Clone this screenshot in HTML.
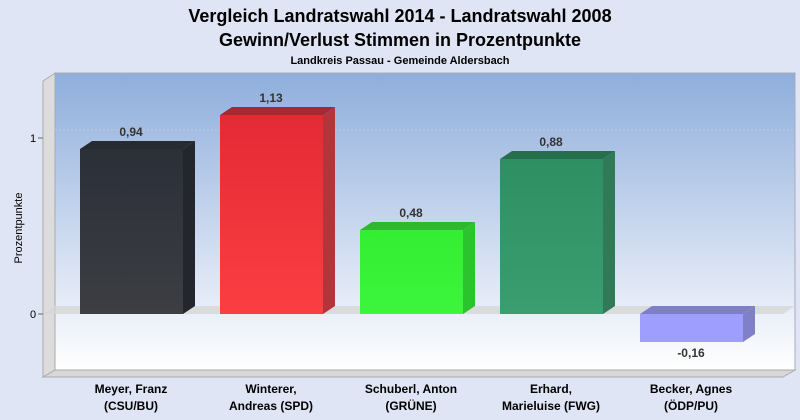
<html><body style="margin:0;background:#dfe5f4;font-family:'Liberation Sans',sans-serif">
<svg width="800" height="420" xmlns="http://www.w3.org/2000/svg">
<defs>
<linearGradient id="bg" x1="0" y1="0" x2="0" y2="1"><stop offset="0" stop-color="#8eaedc"/><stop offset="0.75" stop-color="#e3eaf6"/><stop offset="1" stop-color="#ffffff"/></linearGradient>
<linearGradient id="g1" x1="0" y1="0" x2="0" y2="1"><stop offset="0" stop-color="#2b2f38"/><stop offset="1" stop-color="#3c3e43"/></linearGradient>
<linearGradient id="g2" x1="0" y1="0" x2="0" y2="1"><stop offset="0" stop-color="#e42a35"/><stop offset="1" stop-color="#fb3e42"/></linearGradient>
<linearGradient id="g3" x1="0" y1="0" x2="0" y2="1"><stop offset="0" stop-color="#33ee33"/><stop offset="1" stop-color="#3cf53c"/></linearGradient>
<linearGradient id="g4" x1="0" y1="0" x2="0" y2="1"><stop offset="0" stop-color="#2e8f62"/><stop offset="1" stop-color="#3a9e70"/></linearGradient>
</defs>
<text x="400" y="22" text-anchor="middle" font-size="18" font-weight="bold" fill="#000">Vergleich Landratswahl 2014 - Landratswahl 2008</text>
<text x="400" y="46" text-anchor="middle" font-size="18" font-weight="bold" fill="#000">Gewinn/Verlust Stimmen in Prozentpunkte</text>
<text x="400" y="64" text-anchor="middle" font-size="11" font-weight="bold" fill="#000">Landkreis Passau - Gemeinde Aldersbach</text>
<rect x="55" y="73" width="740" height="297" fill="url(#bg)" stroke="#aab" stroke-width="1"/>
<polygon points="43,81 55,73 55,370 43,377" fill="#dcdcdc" stroke="#aaa" stroke-width="1"/>
<polygon points="43,377 55,370 795,370 783,377" fill="#d8d8d8" stroke="#aaa" stroke-width="1"/>
<polygon points="43,314 55,306 795,306 783,314" fill="#d6d6d6" opacity="0.8"/>
<line x1="55" y1="130" x2="795" y2="130" stroke="#bcc8dc" stroke-dasharray="2,2"/>
<line x1="38" y1="138" x2="43" y2="138" stroke="#666"/><line x1="38" y1="314" x2="43" y2="314" stroke="#666"/>
<text x="33" y="142" text-anchor="middle" font-size="11">1</text>
<text x="33" y="318" text-anchor="middle" font-size="11">0</text>
<text transform="translate(22,228) rotate(-90)" text-anchor="middle" font-size="11">Prozentpunkte</text>
<g>
<rect x="80" y="149" width="103" height="165" fill="url(#g1)"/><polygon points="80,149 92,141 195,141 183,149" fill="#262a31"/><polygon points="183,149 195,141 195,306 183,314" fill="#23262c"/>
<rect x="220" y="115" width="103" height="199" fill="url(#g2)"/><polygon points="220,115 232,107 335,107 323,115" fill="#a32a30"/><polygon points="323,115 335,107 335,306 323,314" fill="#b4343a"/>
<rect x="360" y="230" width="103" height="84" fill="url(#g3)"/><polygon points="360,230 372,222 475,222 463,230" fill="#2fb82f"/><polygon points="463,230 475,222 475,306 463,314" fill="#2cc42c"/>
<rect x="500" y="159" width="103" height="155" fill="url(#g4)"/><polygon points="500,159 512,151 615,151 603,159" fill="#276e4c"/><polygon points="603,159 615,151 615,306 603,314" fill="#307a58"/>
<rect x="640" y="314" width="103" height="28" fill="#9e9eff"/><polygon points="640,314 652,306 755,306 743,314" fill="#7f7fc8"/><polygon points="743,314 755,306 755,334 743,342" fill="#8080c8"/>
</g>
<g font-size="12" font-weight="bold" fill="#333" text-anchor="middle">
<text x="131" y="136">0,94</text><text x="271" y="102">1,13</text><text x="411" y="217">0,48</text><text x="551" y="146">0,88</text><text x="691" y="357">-0,16</text>
</g>
<g font-size="12" font-weight="bold" fill="#000" text-anchor="middle">
<text x="131" y="393">Meyer, Franz</text><text x="131" y="410">(CSU/BU)</text>
<text x="271" y="393">Winterer,</text><text x="271" y="410">Andreas (SPD)</text>
<text x="411" y="393">Schuberl, Anton</text><text x="411" y="410">(GRÜNE)</text>
<text x="551" y="393">Erhard,</text><text x="551" y="410">Marieluise (FWG)</text>
<text x="691" y="393">Becker, Agnes</text><text x="691" y="410">(ÖDP/PU)</text>
</g>
</svg>
</body></html>
